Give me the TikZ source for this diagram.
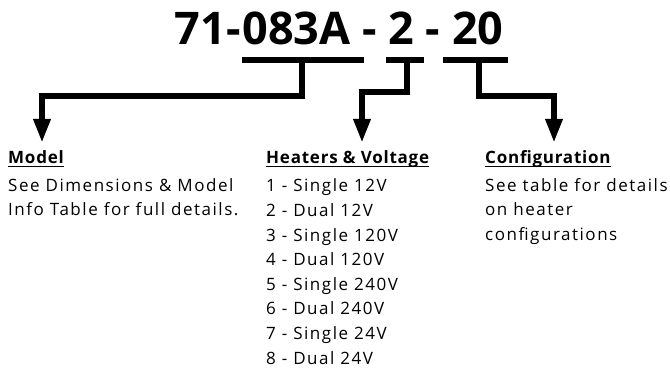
\documentclass[tikz,border=0pt]{standalone}
\usepackage{fontspec}
\setmainfont{Open Sans}[LetterSpace=9, BoldFeatures={LetterSpace=4.5}]
\newfontfamily\titlefont{Open Sans}
\usetikzlibrary{arrows.meta, positioning}

\begin{document}
\begin{tikzpicture}[x=1pt, y=-1pt,
  >={Triangle[length=24pt, width=16pt]},
  bar/.style={line width=6pt},
  lead/.style={line width=6pt, ->},
  uline/.style={line width=1.2pt},
  head/.style={font=\fontsize{17}{24.5}\selectfont\bfseries, anchor=base west, inner sep=0pt},
  body/.style={font=\fontsize{17}{24.5}\selectfont, anchor=base west, inner sep=0pt}]

\useasboundingbox (0,0) rectangle (670,371);

% Part number
\node[font=\titlefont\fontsize{45}{50}\selectfont\bfseries, anchor=base, inner sep=0pt] (pn) at (339,45)
  {71-\kern2pt083A - 2 - 20};

% Bars under each field
\coordinate (m1) at (242,60);  \coordinate (m2) at (364,60);
\coordinate (h1) at (386,60);  \coordinate (h2) at (424,60);
\coordinate (c1) at (443,60);  \coordinate (c2) at (508,60);
\draw[bar] (m1) -- (m2);
\draw[bar] (h1) -- (h2);
\draw[bar] (c1) -- (c2);

% Stems
\coordinate (ms) at (302,60);
\coordinate (hs) at (407,60);
\coordinate (cs) at (479,60);

% Model
\node[head] (model) at (8,164) {Model};
\draw[uline] ([yshift=-2.5pt]model.base west) -- ([yshift=-2.5pt]model.base east);
\node[body] (model1) at (8,192) {See Dimensions \& Model};
\node[body] (model2) at (8,216) {Info Table for full details.};

% Heaters & Voltage
\node[head] (heat) at (266,164) {Heaters \& Voltage};
\draw[uline] ([yshift=-2.5pt]heat.base west) -- ([yshift=-2.5pt]heat.base east);
\foreach \txt [count=\i] in {1 - Single 12V, 2 - Dual 12V, 3 - Single 120V, 4 - Dual 120V,
    5 - Single 240V, 6 - Dual 240V, 7 - Single 24V, 8 - Dual 24V}
  \node[body] (heat\i) at (266,{192+24.6*(\i-1)}) {\txt};

% Configuration
\node[head] (conf) at (485,164) {Configuration};
\draw[uline] ([yshift=-2.5pt]conf.base west) -- ([yshift=-2.5pt]conf.base east);
\node[body] (conf1) at (485,192) {See table for details};
\node[body] (conf2) at (485,216) {on heater};
\node[body] (conf3) at (485,241) {configurations};

% Leaders
\coordinate (mt) at (42,143);
\coordinate (ht) at (362,143);
\coordinate (ct) at (554,143);
\draw[lead] (ms) -- (ms |- 0,96) -| (mt);
\draw[lead] (hs) -- (hs |- 0,92) -| (ht);
\draw[lead] (cs) -- (cs |- 0,96) -| (ct);

\end{tikzpicture}
\end{document}
